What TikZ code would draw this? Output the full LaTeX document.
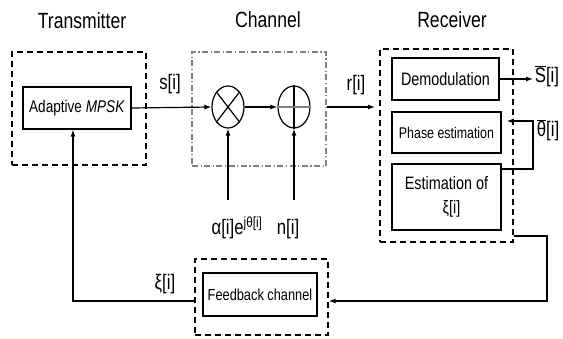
\documentclass[tikz,border=0pt]{standalone}
\usepackage{fontspec}
\setmainfont{Liberation Sans}[FakeStretch=0.8]
\usetikzlibrary{arrows.meta,shapes.geometric}
\begin{document}
\begin{tikzpicture}[x=1pt,y=-1pt,
 blk/.style={draw,line width=1.2pt,inner sep=0pt},
 dbox/.style={draw,line width=1.3pt,dash pattern=on 6pt off 4pt,inner sep=0pt},
 cbox/.style={draw=gray,line width=1.1pt,dash pattern=on 6pt off 2.5pt on 1.2pt off 2.5pt,inner sep=0pt},
 op/.style={draw,ellipse,line width=1.2pt,minimum width=32pt,minimum height=42pt,inner sep=0pt},
 conn/.style={line width=1.2pt},
 arr/.style={conn,-{Latex[length=7pt,width=5pt]}},
 ttl/.style={font=\fontsize{22}{24}\selectfont},
 lbl/.style={font=\fontsize{21}{23}\selectfont},
]
\useasboundingbox (0,0) rectangle (563,339);
% titles
\node[ttl] (ttx) at (82,21) {Transmitter};
\node[ttl] (tch) at (268,20) {Channel};
\node[ttl] (trx) at (452,20) {Receiver};
% transmitter
\node[dbox,minimum width=134pt,minimum height=113pt] (txb) at (79,108.5) {};
\node[blk,minimum width=108pt,minimum height=42pt,font=\fontsize{17}{19}\selectfont] (amp) at (77,108) {Adaptive \textit{MPSK}};
% channel
\node[cbox,minimum width=134pt,minimum height=114pt] (chb) at (259,109) {};
\node[op] (mult) at (228,107) {};
\node[op] (add) at (294,107) {};
\draw[conn] (mult.north west) -- (mult.south east) (mult.north east) -- (mult.south west);
\draw[conn] (add.north) -- (add.south);
\draw[conn,gray] (add.west) -- (add.east);
% receiver
\node[dbox,minimum width=133pt,minimum height=193pt] (rxb) at (446.5,145.5) {};
\node[blk,minimum width=107pt,minimum height=42pt,font=\fontsize{18}{20}\selectfont] (demod) at (445.5,79) {Demodulation};
\node[blk,minimum width=109pt,minimum height=41pt,font=\fontsize{15.5}{17}\selectfont] (phase) at (446.5,132.5) {Phase estimation};
\node[blk,minimum width=109pt,minimum height=66pt,align=center,font=\fontsize{18}{24}\selectfont] (estxi) at (446.5,197) {Estimation of\\\hspace*{10pt}ξ[i]};
% feedback
\node[dbox,minimum width=133pt,minimum height=76pt] (fbb) at (261.5,297) {};
\node[blk,minimum width=114pt,minimum height=43pt,font=\fontsize{16}{18}\selectfont] (fbc) at (260,294.5) {Feedback channel};
% coordinates
\coordinate (rend) at (375,107);
\coordinate (ain) at (228,200);
\coordinate (nin) at (294,200);
\coordinate (sout) at (533,79);
\coordinate (t1) at (533,169);
\coordinate (t2) at (533,121);
\coordinate (r1) at (547,236);
\coordinate (r2) at (547,301);
\coordinate (fb1) at (73,301);
% connectors
\draw[arr] (amp.east) -- (mult.west);
\draw[arr] (mult.east) -- (add.west);
\draw[arr] (chb.east |- add.east) -- (rend);
\draw[arr] (ain) -- (mult.south);
\draw[arr] (nin) -- (add.south);
\draw[arr] (demod.east) -- (sout);
\draw[arr,shorten >=5pt] (estxi.east |- t1) -- (t1) -- (t2) -- (phase.east |- t2);
\draw[arr] (rxb.east |- r1) -- (r1) -- (r2) -- (fbb.east |- r2);
\draw[arr] (fbb.west |- fb1) -- (fb1) -- (fb1 |- amp.south);
% labels
\node[lbl] (ls) at (170,84) {s[i]};
\node[lbl] (lr) at (356,85) {r[i]};
\node[lbl,anchor=base] (la) at (237,235) {α[i]e\textsuperscript{jθ[i]}};
\node[lbl,anchor=base] (ln) at (288,235) {n[i]};
\node[lbl] (lsb) at (547,76) {$\overline{\mbox{S}}$[i]};
\node[lbl] (lth) at (548,130) {$\overline{\mbox{θ}}$[i]};
\node[lbl] (lxi) at (165,284) {ξ[i]};
\end{tikzpicture}
\end{document}
